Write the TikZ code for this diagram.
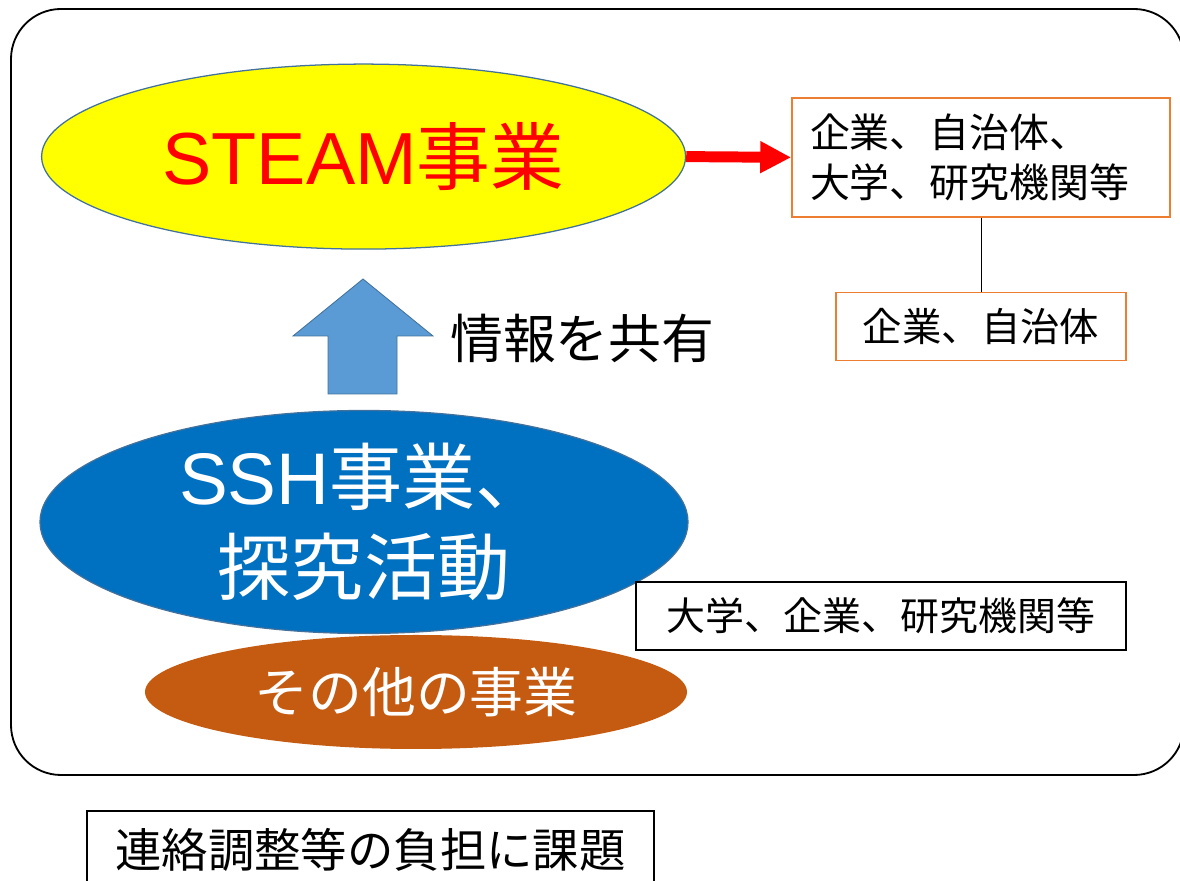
\documentclass[tikz,border=0pt]{standalone}
\usepackage{fontspec}
\setmainfont{Noto Sans CJK JP}
\newfontfamily\arialfont{Liberation Sans}
\usetikzlibrary{shapes.geometric,arrows.meta,positioning}
\definecolor{amarillo}{HTML}{FFFF00}
\definecolor{bordeazul}{HTML}{41719C}
\definecolor{azulflecha}{HTML}{5B9BD5}
\definecolor{azulssh}{HTML}{0070C0}
\definecolor{naranja}{HTML}{ED7D31}
\definecolor{marron}{HTML}{C55A11}
\tikzset{
  elipse/.style={ellipse, inner sep=0pt, line width=0.9pt},
  caja/.style={rectangle, draw, line width=1.2pt, fill=white, inner sep=0pt},
}
\begin{document}
\begin{tikzpicture}
\useasboundingbox (0,0) rectangle (29.5,22.025);
% Marco
\draw[line width=1.3pt, rounded corners=1.25cm] (0.275,2.65) rectangle (29.6,21.8);
% Elipse STEAM
\node[elipse, draw=bordeazul, fill=amarillo, minimum width=16.1cm, minimum height=4.625cm,
  text=red, font=\fontsize{52.5pt}{60pt}\selectfont] (steam) at (9.09,18.11) {{\arialfont STEAM}事業};
% Socios
\node[caja, draw=naranja, minimum width=9.45cm, minimum height=2.975cm, text width=8.55cm,
  align=left, font=\fontsize{28.4pt}{35.5pt}\selectfont] (socios) at (24.525,18.09) {企業、自治体、\\大学、研究機関等};
\node[caja, draw=naranja, minimum width=7.25cm, minimum height=1.7cm,
  font=\fontsize{28pt}{34pt}\selectfont, below=1.85cm of socios] (local) {企業、自治体};
\draw[red, line width=7.8pt, -{Triangle[length=22pt,width=21.3pt]}] (steam.east) -- (socios.west);
\draw[line width=0.6pt] (socios.south) -- (local.north);
% Flecha
\draw[draw=bordeazul, fill=azulflecha, line width=0.6pt]
  (8.2,12.175) -- (8.2,13.625) -- (7.325,13.625) -- (9.075,15.05) -- (10.825,13.625)
  -- (9.925,13.625) -- (9.925,12.175) -- cycle;
\node[font=\fontsize{37.6pt}{44pt}\selectfont] (info) at (14.56,13.575) {情報を共有};
% Elipse SSH
\node[elipse, draw=bordeazul, fill=azulssh, minimum width=16.2cm, minimum height=4.85cm,
  text=white, align=center, font=\fontsize{52pt}{64pt}\selectfont] (ssh) at (9.1,8.975) {{\arialfont SSH}事業、\\探究活動};
\node[caja, minimum width=12.25cm, minimum height=1.7cm,
  font=\fontsize{27.7pt}{33pt}\selectfont] (univ) at (22.025,6.625) {大学、企業、研究機関等};
% Otros
\node[elipse, fill=marron, minimum width=13.55cm, minimum height=2.85cm,
  text=white, font=\fontsize{38.3pt}{44pt}\selectfont] (otros) at (10.4,4.725) {その他の事業};
% Nota
\node[caja, line width=0.9pt, minimum width=14.175cm, minimum height=1.95cm,
  font=\fontsize{33pt}{40pt}\selectfont] (nota) at (9.2625,0.775) {連絡調整等の負担に課題};
\end{tikzpicture}
\end{document}
